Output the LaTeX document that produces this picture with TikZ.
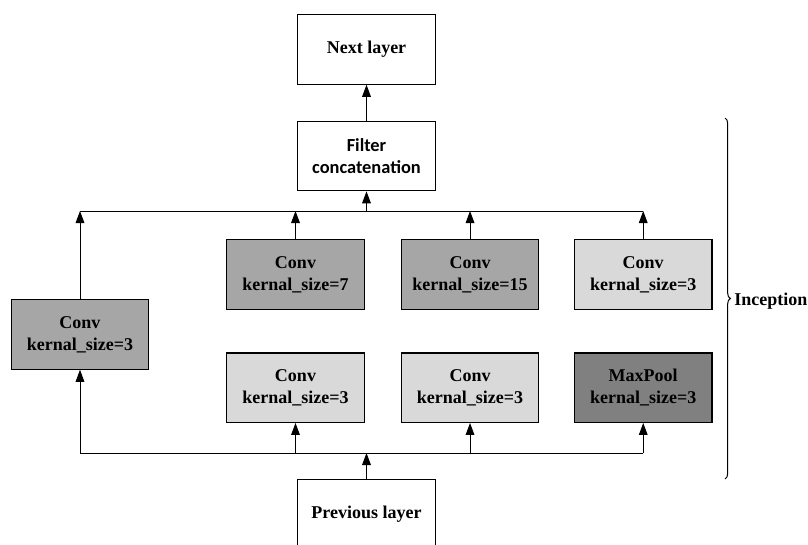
\documentclass[tikz,border=0pt]{standalone}
\usepackage{fontspec}
\setmainfont{Liberation Serif}
\newfontfamily\calibrifont{Carlito}
\usetikzlibrary{arrows.meta, positioning, decorations.pathreplacing}
\definecolor{convdark}{HTML}{A6A6A6}
\definecolor{convlight}{HTML}{D9D9D9}
\definecolor{pooldark}{HTML}{808080}

\begin{document}
\begin{tikzpicture}[
    x=0.75pt, y=-0.75pt,
    node distance = 27pt and 27pt,
    blok/.style = {rectangle, draw, line width=0.9pt, minimum width=103pt,
        minimum height=52pt, inner sep=0pt, align=center,
        font=\fontsize{13.5}{16.5}\selectfont\bfseries},
    pil/.style = {black, line width=0.75pt, -{Triangle[length=9pt,width=6.5pt]}},
    ]
    \clip (0,0) rectangle (808,544);
    %nodes
    \node[blok] (next) at (366.5,49.5) {Next layer};
    \node[blok, font=\calibrifont\fontsize{13.8}{17}\selectfont\bfseries] (concat)
        [below=of next] {Filter\\concatenation};

    \node[blok, fill=convdark] (left) at (80,334.5) {Conv\\kernal\_size=3};
    \node[blok, fill=convdark] (k7) at (295.5,274.5) {Conv\\kernal\_size=7};
    \node[blok, fill=convdark] (k15) [right=of k7] {Conv\\kernal\_size=15};
    \node[blok, fill=convlight] (k3top) [right=26pt of k15] {Conv\\kernal\_size=3};

    \node[blok, fill=convlight] (c3a) [below=32pt of k7] {Conv\\kernal\_size=3};
    \node[blok, fill=convlight] (c3b) [below=32pt of k15] {Conv\\kernal\_size=3};
    \node[blok, fill=pooldark] (pool) [below=32pt of k3top] {MaxPool\\kernal\_size=3};

    \node[blok] (prev) at (366.5,514.5) {Previous layer};

    \coordinate (bustop) at (366.5,211);
    \coordinate (busbot) at (366.5,453);

    % edges
    \draw[line width=0.75pt] (left.north |- bustop) -- (k3top.north |- bustop);
    \foreach \n in {left,k7,k15,k3top}
        \draw[pil] (\n.north) -- (\n.north |- bustop);
    \draw[pil] (bustop) -- (concat.south);
    \draw[pil] (concat) -- (next);

    \draw[line width=0.75pt] (left.south |- busbot) -- (pool.south |- busbot);
    \foreach \n in {left,c3a,c3b,pool}
        \draw[pil] (\n.south |- busbot) -- (\n.south);
    \draw[pil] (prev) -- (busbot);

    % brace
    \coordinate (brtop) at (725,118);
    \coordinate (brbot) at (725,479);
    \draw[line width=0.75pt, decorate, decoration={brace, amplitude=4pt}]
        (brtop) -- (brbot);
    \node[anchor=west, inner sep=0pt, font=\fontsize{13.5}{16.5}\selectfont\bfseries]
        (incep) at (734,301) {Inception};
\end{tikzpicture}
\end{document}
